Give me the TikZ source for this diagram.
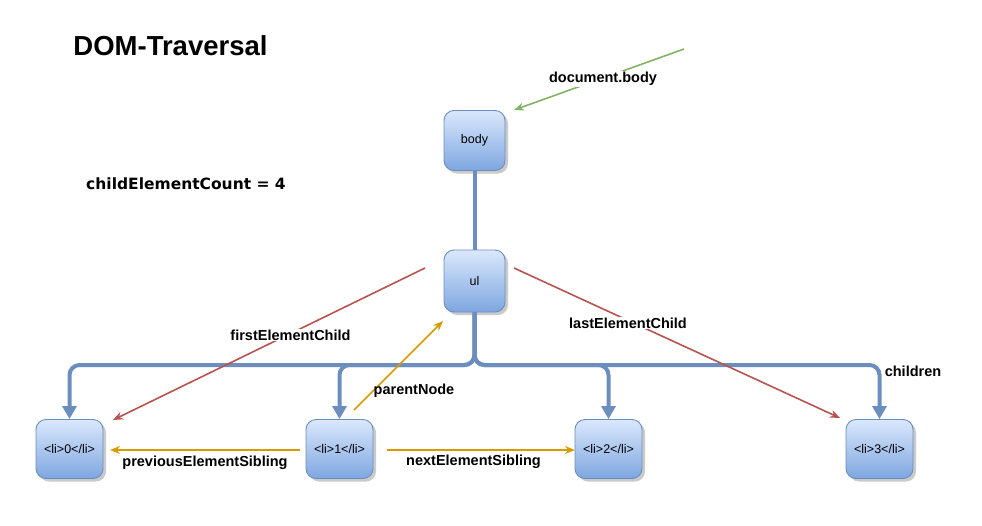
\documentclass[tikz,border=0pt]{standalone}
\usepackage{fontspec}
\setmainfont{Liberation Sans}
\newfontfamily\dejavu{DejaVu Sans}
\usetikzlibrary{arrows.meta,shadows}
\definecolor{edgeblue}{HTML}{6C8EBF}
\definecolor{boxtop}{HTML}{DAE8FC}
\definecolor{boxbot}{HTML}{7EA6E0}
\definecolor{redline}{HTML}{B85450}
\definecolor{orangeline}{HTML}{D79B00}
\definecolor{greenline}{HTML}{82B366}
\tikzset{
  dombox/.style={rectangle, rounded corners=10pt, draw=edgeblue, line width=0.9pt,
    top color=boxtop, bottom color=boxbot, minimum height=60pt, inner sep=0pt,
    drop shadow={shadow xshift=3pt, shadow yshift=-3pt, fill=black!35, opacity=0.6},
    font=\fontsize{12.5}{14}\selectfont},
  treeedge/.style={draw=edgeblue, line width=4pt, rounded corners=10pt},
  treearrow/.style={treeedge, -{Triangle[length=13pt,width=14pt]}},
  lbl/.style={font=\bfseries\fontsize{14.5}{17}\selectfont, inner sep=1pt},
  lblbg/.style={lbl, fill=white},
  redarrow/.style={draw=redline, line width=1.6pt, -{Stealth[length=10pt,width=8pt]}},
  orangearrow/.style={draw=orangeline, line width=1.6pt, -{Stealth[length=10pt,width=8pt]}},
  greenarrow/.style={draw=greenline, line width=1.6pt, -{Stealth[length=10pt,width=8pt]}},
}
\begin{document}
\begin{tikzpicture}[x=1pt,y=-1pt]
\useasboundingbox (0,0) rectangle (982,525);

% title and texts
\node[font=\bfseries\fontsize{27.5}{32}\selectfont, inner sep=0pt] (title) at (170.5,46) {DOM-Traversal};
\node[font=\dejavu\bfseries\fontsize{15.5}{18}\selectfont, inner sep=0pt] (count) at (186,184) {childElementCount = 4};

% boxes
\node[dombox, minimum width=61pt] (body) at (474.5,140.5) {body};
\node[dombox, minimum width=61pt, minimum height=62pt] (ul) at (474.5,281) {ul};
\node[dombox, minimum width=67pt, minimum height=59pt] (li0) at (69.5,449) {<li>0</li>};
\node[dombox, minimum width=67pt, minimum height=59pt] (li1) at (339.5,449) {<li>1</li>};
\node[dombox, minimum width=67pt, minimum height=59pt] (li2) at (608.5,449) {<li>2</li>};
\node[dombox, minimum width=67pt, minimum height=59pt] (li3) at (879.5,449) {<li>3</li>};

% tree edges
\draw[treeedge] (body.south) -- (ul.north);
\draw[treearrow] (ul.south) -- (474.5,365) -| (li0.north);
\draw[treearrow] (ul.south) -- (474.5,365) -| (li1.north);
\draw[treearrow] (ul.south) -- (474.5,365) -| (li2.north);
\draw[treearrow] (ul.south) -- (474.5,365) -| (li3.north);
\node[lbl] (children) at (913,371) {children};

% green
\coordinate (docstart) at (684,49);
\coordinate (docend) at (514,110);
\draw[greenarrow] (docstart) -- (docend);
\node[lblbg] (doclbl) at (603,79) {document.body};

% red
\coordinate (fecs) at (425,268);
\coordinate (fece) at (113,420);
\draw[redarrow] (fecs) -- (fece);
\node[lblbg] (fec) at (290.5,335) {firstElementChild};
\coordinate (lecs) at (514,268);
\coordinate (lece) at (840,418);
\draw[redarrow] (lecs) -- (lece);
\node[lblbg] (lec) at (628,323) {lastElementChild};

% orange
\coordinate (pns) at (354,410);
\coordinate (pne) at (443,321);
\draw[orangearrow] (pns) -- (pne);
\node[lbl] (pn) at (414,391) {parentNode};
\coordinate (pess) at (300,450);
\coordinate (pese) at (110,450);
\draw[orangearrow] (pess) -- (pese);
\node[lbl] (pes) at (205,463) {previousElementSibling};
\coordinate (ness) at (387,450);
\coordinate (nese) at (575,450);
\draw[orangearrow] (ness) -- (nese);
\node[lbl] (nes) at (473.5,462) {nextElementSibling};
\end{tikzpicture}
\end{document}
